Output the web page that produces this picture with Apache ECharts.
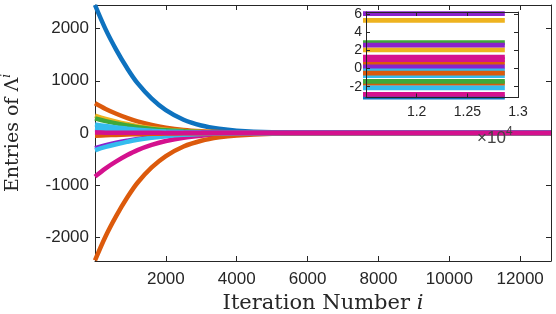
<!DOCTYPE html>
<html>
<head>
<meta charset="utf-8">
<script src="https://cdn.jsdelivr.net/npm/echarts@6/dist/echarts.min.js"></script>
<style>html,body{margin:0;padding:0;background:#fff}#c{width:556px;height:314px}</style>
</head>
<body>
<div id="c"></div>
<script>
// iteration numbers where values were read
var iters = [0, 300, 600, 900, 1200, 1600, 2000, 2500, 3000, 3500, 4000, 5000, 6000, 8000, 11500, 12870];
var xTicks = [2000, 4000, 6000, 8000, 10000, 12000];
var yTicks = [-2000, -1000, 0, 1000, 2000];
var insetXTicks = [12000, 12500, 13000];
var insetYTicks = [-2, 0, 2, 4, 6];

var blue1 = [2450, 1984, 1592, 1248, 954, 659, 438, 254, 144, 80, 44, 12, 2, -3.1, -3.15, -3.15];
var orange1 = [568, 460, 369, 290, 222, 154, 103, 60, 35, 20, 11.4, 4, 1.8, 0.7, 0.65, 0.65];
var yellow1 = [330, 268, 216, 171, 132, 93, 64, 39, 25, 16, 11.6, 7.3, 6, 5.4, 5.33, 5.33];
var purple1 = [-290, -235, -188, -148, -113, -78, -52, -30, -17, -9.7, -5.3, -1.6, -0.4, 0.15, 0.18, 0.18];
var green1 = [281, 228, 184, 145, 111, 78, 53, 32, 20, 12, 8, 4.5, 3.4, 2.9, 2.86, 2.86];
var cyan1 = [165, 134, 107, 84, 64, 44, 29.5, 17, 9.7, 5.4, 2.9, 0.75, 0.08, -0.24, -0.25, -0.25];
var magenta1 = [-835, -677, -544, -427, -327, -228, -153, -90, -53, -31, -18.7, -7.9, -4.5, -2.9, -2.86, -2.86];
var orange2 = [-2440, -1977, -1587, -1245, -952, -660, -441, -258, -148, -84, -48, -16, -6.5, -1.7, -1.63, -1.63];
var yellow2 = [40, 33, 27, 21.4, 16.9, 12.3, 8.9, 6.0, 4.3, 3.4, 2.8, 2.3, 2.15, 2.08, 2.07, 2.07];
var purple2 = [12, 10.9, 10, 9.1, 8.4, 7.7, 7.1, 6.7, 6.4, 6.3, 6.2, 6.1, 6.09, 6.08, 6.08, 6.08];
var green2 = [-20, -16.5, -13.5, -10.9, -8.7, -6.4, -4.8, -3.4, -2.6, -2.1, -1.8, -1.5, -1.45, -1.41, -1.41, -1.41];
var cyan2 = [-330, -267, -215, -169, -129, -90, -60, -35, -20.5, -12, -7, -2.8, -1.4, -0.8, -0.79, -0.79];
var magenta2 = [25, 20.5, 16.7, 13.4, 10.5, 7.7, 5.5, 3.8, 2.7, 2.1, 1.7, 1.4, 1.3, 1.27, 1.27, 1.27];
var orange3 = [-55, -45, -36, -28.3, -21.8, -15.2, -10.3, -6.2, -3.8, -2.4, -1.5, -0.84, -0.62, -0.52, -0.51, -0.51];
var purple3 = [60, 49, 40, 32, 25, 18, 12.9, 8.6, 6, 4.5, 3.7, 2.9, 2.7, 2.6, 2.58, 2.58];
var cyan3 = [95, 76.5, 61, 47, 35.5, 24, 15.3, 8, 3.7, 1.2, -0.3, -1.5, -1.9, -2.1, -2.14, -2.14];
var magenta3 = [8, 6.7, 5.6, 4.6, 3.7, 2.9, 2.2, 1.7, 1.4, 1.2, 1.1, 1.0, 0.99, 0.98, 0.98, 0.98];

var C = {blue:'#0E72BF', orange:'#DC5A0C', yellow:'#EEB31F', purple:'#8A22CC', green:'#3FA83A', cyan:'#35BCEE', magenta:'#D4118E'};
var seriesList = [
  [blue1, C.blue], [orange1, C.orange], [yellow1, C.yellow], [purple1, C.purple], [green1, C.green],
  [cyan1, C.cyan], [magenta1, C.magenta], [orange2, C.orange], [yellow2, C.yellow], [purple2, C.purple],
  [green2, C.green], [cyan2, C.cyan], [magenta2, C.magenta], [orange3, C.orange], [purple3, C.purple],
  [cyan3, C.cyan], [magenta3, C.magenta]
];

var AX = '#262626';
var SANS = 'Liberation Sans, Arial, Helvetica, sans-serif';
var SERIF = 'DejaVu Serif, serif';

function pairs(vals){ return iters.map(function(x,i){ return [x, vals[i]]; }); }
function plain(v){ return String(v); }

var series = [];
seriesList.forEach(function(s){
  series.push({type:'line', xAxisIndex:0, yAxisIndex:0, data:pairs(s[0]), showSymbol:false,
    smooth:0.35, clip:true, lineStyle:{width:4.5, color:s[1]}, itemStyle:{color:s[1]}});
});
seriesList.forEach(function(s){
  series.push({type:'line', xAxisIndex:2, yAxisIndex:2, data:pairs(s[0]), showSymbol:false,
    smooth:false, clip:true, lineStyle:{width:4.8, color:s[1]}, itemStyle:{color:s[1]}, z:5});
});

function axLine(){ return {show:true, onZero:false, lineStyle:{color:AX, width:1}}; }

var chart = echarts.init(document.getElementById('c'), null, {renderer:'canvas'});
chart.setOption({
  animation:false,
  backgroundColor:'#fff',
  grid:[
    {left:95, top:5, width:456, height:256, show:false, containLabel:false, outerBoundsMode:'none'},
    {left:366, top:12, width:152, height:85.5, show:true, backgroundColor:'#fff', borderWidth:0, z:4, containLabel:false, outerBoundsMode:'none'}
  ],
  xAxis:[
    {gridIndex:0, type:'value', min:0, max:12870, position:'bottom', axisLine:axLine(),
     axisTick:{show:true, inside:true, length:5, customValues:xTicks, lineStyle:{color:AX}},
     axisLabel:{show:true, customValues:xTicks, fontFamily:SANS, fontSize:17, color:AX, margin:10, formatter:plain},
     splitLine:{show:false},
     name:'{n|Iteration Number }{i|i}', nameLocation:'middle', nameGap:27,
     nameTextStyle:{rich:{n:{fontFamily:SERIF, fontSize:21, color:AX}, i:{fontFamily:SERIF, fontSize:21, fontStyle:'italic', color:AX}}}},
    {gridIndex:0, type:'value', min:0, max:12870, position:'top', axisLine:axLine(),
     axisTick:{show:true, inside:true, length:5, customValues:xTicks, lineStyle:{color:AX}},
     axisLabel:{show:false}, splitLine:{show:false}},
    {gridIndex:1, type:'value', min:11500, max:13000, position:'bottom', axisLine:axLine(),
     axisTick:{show:true, inside:true, length:4, customValues:insetXTicks, lineStyle:{color:AX}},
     axisLabel:{show:true, customValues:insetXTicks, fontFamily:SANS, fontSize:14, color:AX, margin:8,
       formatter:function(v){ return String(v/10000); }},
     splitLine:{show:false}, z:6},
    {gridIndex:1, type:'value', min:11500, max:13000, position:'top', axisLine:axLine(),
     axisTick:{show:true, inside:true, length:4, customValues:insetXTicks, lineStyle:{color:AX}},
     axisLabel:{show:false}, splitLine:{show:false}, z:6}
  ],
  yAxis:[
    {gridIndex:0, type:'value', min:-2450, max:2450, position:'left', axisLine:axLine(),
     axisTick:{show:true, inside:true, length:5, customValues:yTicks, lineStyle:{color:AX}},
     axisLabel:{show:true, customValues:yTicks, fontFamily:SANS, fontSize:17, color:AX, margin:6, formatter:plain},
     splitLine:{show:false},
     name:'{n|Entries of Λ}{s|i}', nameLocation:'middle', nameGap:70, nameRotate:90,
     nameTextStyle:{rich:{n:{fontFamily:SERIF, fontSize:19, color:AX, lineHeight:24},
       s:{fontFamily:SERIF, fontSize:12, fontStyle:'italic', color:AX, verticalAlign:'top', lineHeight:24}}}},
    {gridIndex:0, type:'value', min:-2450, max:2450, position:'right', axisLine:axLine(),
     axisTick:{show:true, inside:true, length:5, customValues:yTicks, lineStyle:{color:AX}},
     axisLabel:{show:false}, splitLine:{show:false}},
    {gridIndex:1, type:'value', min:-3.2, max:6.25, position:'left', axisLine:axLine(),
     axisTick:{show:true, inside:true, length:4, customValues:insetYTicks, lineStyle:{color:AX}},
     axisLabel:{show:true, customValues:insetYTicks, fontFamily:SANS, fontSize:14, color:AX, margin:4},
     splitLine:{show:false}, z:6},
    {gridIndex:1, type:'value', min:-3.2, max:6.25, position:'right', axisLine:axLine(),
     axisTick:{show:true, inside:true, length:4, customValues:insetYTicks, lineStyle:{color:AX}},
     axisLabel:{show:false}, splitLine:{show:false}, z:6}
  ],
  graphic:[
    {type:'text', left:477, top:130, z:100, style:{text:'×10', font:'17px Liberation Sans', fill:'#444'}},
    {type:'text', left:506, top:126, z:100, style:{text:'4', font:'12px Liberation Sans', fill:'#444'}}
  ],
  series:series
});
</script>
</body>
</html>
